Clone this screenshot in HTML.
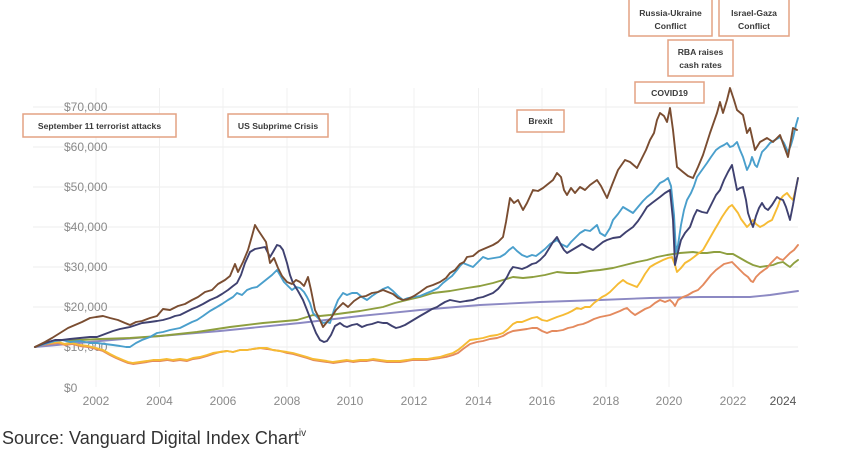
<!DOCTYPE html>
<html>
<head>
<meta charset="utf-8">
<style>
  html, body { margin: 0; padding: 0; background: #ffffff; }
  body { width: 841px; height: 463px; overflow: hidden; }
  svg { display: block; }
  .ax { font-family: "Liberation Sans", Arial, sans-serif; font-size: 12px; fill: #8a8a8a; }
  .bx { font-family: "Liberation Sans", Arial, sans-serif; font-size: 8.6px; font-weight: bold; fill: #3a3a3a; }
  .src { font-family: "Liberation Sans", Arial, sans-serif; font-size: 18px; fill: #333333; }
  .ln { fill: none; stroke-width: 1.9; stroke-linejoin: round; stroke-linecap: round; }
</style>
</head>
<body>
<svg width="841" height="463" viewBox="0 0 841 463" xmlns="http://www.w3.org/2000/svg">
  <rect x="0" y="0" width="841" height="463" fill="#ffffff"/>

  <!-- horizontal gridlines -->
  <g stroke="#eeeeee" stroke-width="1">
    <line x1="33" y1="107" x2="798" y2="107"/>
    <line x1="33" y1="147" x2="798" y2="147"/>
    <line x1="33" y1="187" x2="798" y2="187"/>
    <line x1="33" y1="227" x2="798" y2="227"/>
    <line x1="33" y1="267" x2="798" y2="267"/>
    <line x1="33" y1="307" x2="798" y2="307"/>
    <line x1="33" y1="347" x2="798" y2="347"/>
  </g>
  <!-- vertical gridlines -->
  <g stroke="#f0f0f0" stroke-width="1">
    <line x1="96" y1="88" x2="96" y2="387"/>
    <line x1="159.5" y1="88" x2="159.5" y2="387"/>
    <line x1="223" y1="88" x2="223" y2="387"/>
    <line x1="287" y1="88" x2="287" y2="387"/>
    <line x1="350" y1="88" x2="350" y2="387"/>
    <line x1="414" y1="88" x2="414" y2="387"/>
    <line x1="478.5" y1="88" x2="478.5" y2="387"/>
    <line x1="542" y1="88" x2="542" y2="387"/>
    <line x1="606" y1="88" x2="606" y2="387"/>
    <line x1="669" y1="88" x2="669" y2="387"/>
    <line x1="733" y1="88" x2="733" y2="387"/>
  </g>

  <!-- y axis labels -->
  <g class="ax">
    <text x="64" y="111">$70,000</text>
    <text x="64" y="151">$60,000</text>
    <text x="64" y="191">$50,000</text>
    <text x="64" y="231">$40,000</text>
    <text x="64" y="271">$30,000</text>
    <text x="64" y="311">$20,000</text>
    <text x="64" y="351">$10,000</text>
    <text x="64" y="392">$0</text>
  </g>
  <!-- x axis labels -->
  <g class="ax" text-anchor="middle">
    <text x="96" y="405">2002</text>
    <text x="159.5" y="405">2004</text>
    <text x="223" y="405">2006</text>
    <text x="287" y="405">2008</text>
    <text x="350" y="405">2010</text>
    <text x="414" y="405">2012</text>
    <text x="478.5" y="405">2014</text>
    <text x="542" y="405">2016</text>
    <text x="606" y="405">2018</text>
    <text x="669" y="405">2020</text>
    <text x="733" y="405">2022</text>
    <text x="783" y="405" style="fill:#555">2024</text>
  </g>

  <!-- lavender (cash) -->
  <polyline class="ln" stroke="#8c89c3" points="35,347 100,341 160,336 220,331 300,323 360,316 420,310 480,305 540,302 600,300 650,298 700,297 750,297 770,295 798,291"/>

  <!-- olive -->
  <polyline class="ln" stroke="#8e9f3f" points="35,347 45,344 55,342 63,340 80,340 100,339 130,338 160,336 197,332 230,327 263,323 297,320 307,317 313,315 320,316 330,315 345,313 360,311 383,307 395,303 407,300 420,297 433,293 450,291 467,288 480,286 493,283 503,280 513,277 523,278 533,277 545,275 557,272 567,273 577,273 590,271 600,270 613,268 625,265 637,262 647,260 657,257 667,255 680,253 693,252 700,253 707,253 714,252 720,252 727,254 733,254 740,258 747,262 753,265 760,267 767,266 773,265 778,263 783,262 787,265 790,267 794,263 798,260"/>

  <!-- salmon -->
  <polyline class="ln" stroke="#e48a5e" points="35,347 42,345 50,344 58,343 65,345 72,344 80,346 88,347 96,349 103,351 110,355 116,358 123,361 128,363 133,364 140,363 147,362 153,361 160,361 167,360 173,361 180,360 187,361 193,359 200,358 207,356 213,354 220,352 227,351 233,352 240,350 247,350 253,349 260,348 267,349 273,350 280,351 287,353 293,354 300,356 307,358 313,360 320,361 327,362 333,363 340,362 347,361 353,362 360,361 367,361 373,360 380,361 387,362 393,362 400,362 407,361 413,360 420,360 427,360 433,359 440,358 446,357 453,355 458,353 463,349 470,344 477,342 483,341 490,339 497,338 503,336 508,333 513,331 520,330 527,329 532,328 537,328 542,331 547,333 552,331 557,331 563,330 568,328 573,327 578,325 583,324 588,322 594,319 600,317 605,316 610,315 615,313 620,311 624,309 627,308 631,312 635,315 640,312 645,309 650,307 655,303 660,300 665,302 670,300 673,303 675,306 678,300 683,297 688,295 693,292 698,290 703,285 707,280 711,275 716,270 720,267 724,264 728,263 732,262 736,266 740,270 744,274 748,277 751,281 753,282 756,277 760,273 764,270 767,268 771,263 774,260 777,257 780,259 783,260 787,256 790,253 794,250 798,245"/>

  <!-- yellow -->
  <polyline class="ln" stroke="#f6bb34" points="35,347 42,344 50,343 58,342 65,344 72,343 80,345 88,346 96,348 103,350 110,354 116,357 123,360 128,362 133,363 140,362 147,361 153,360 160,360 167,359 173,360 180,359 187,360 193,358 200,357 207,355 213,353 220,352 227,351 233,352 240,350 247,350 253,349 260,348 267,348 273,350 280,351 287,352 293,353 300,355 307,357 313,359 320,360 327,361 333,362 340,361 347,360 353,361 360,360 367,360 373,359 380,360 387,361 393,361 400,361 407,360 413,359 420,359 427,359 433,358 440,357 446,355 453,353 458,350 463,346 470,340 477,339 483,338 490,336 497,335 503,333 508,329 513,324 517,322 522,322 527,320 532,318 537,317 542,320 547,321 552,319 557,317 563,315 568,313 572,311 577,308 581,309 585,307 590,307 594,303 598,300 602,297 606,295 610,292 614,288 618,284 623,280 627,283 632,285 637,287 641,281 645,274 650,267 655,264 659,262 663,260 668,258 672,257 675,265 677,272 681,268 685,263 690,260 694,257 699,253 703,250 707,243 711,236 715,229 718,224 722,217 726,211 729,207 732,205 735,209 738,213 741,219 744,223 747,227 750,224 753,220 756,224 760,227 764,225 768,222 772,220 775,213 778,206 780,200 783,196 787,193 790,197 793,200 796,188 798,178"/>

  <!-- light blue -->
  <polyline class="ln" stroke="#4a9fcc" points="35,347 45,344 55,341 62,340 70,342 80,341 90,343 97,343 105,344 113,345 120,346 126,347 130,347 136,343 142,340 150,337 157,333 163,332 170,330 175,329 180,328 186,325 192,322 197,320 203,316 210,311 217,307 222,304 228,300 233,297 237,293 242,295 247,290 252,288 257,287 262,283 267,279 272,275 277,270 280,275 284,282 287,285 292,290 296,287 300,288 304,292 307,297 310,303 313,313 318,318 323,323 327,322 330,323 334,310 338,300 343,293 347,295 352,293 357,293 362,297 367,300 372,296 378,292 383,289 388,287 393,291 398,296 403,300 408,298 414,297 420,296 427,293 432,291 438,288 443,283 448,279 452,276 457,270 460,266 463,263 468,265 473,267 478,262 483,257 488,259 494,258 500,257 505,254 509,250 513,247 517,251 522,255 527,257 532,255 536,256 540,253 545,249 550,244 557,240 561,244 567,247 571,242 575,238 580,233 585,230 590,231 597,225 600,233 605,236 610,228 613,220 618,214 623,207 628,210 633,213 638,207 643,201 647,197 652,193 656,188 660,183 664,181 668,178 671,186 674,215 676,252 678,245 681,225 684,210 687,200 691,193 694,186 697,177 702,170 707,163 711,157 716,150 720,147 724,145 727,143 730,147 733,146 737,142 740,150 743,157 747,170 750,164 752,157 755,165 757,167 760,158 762,152 766,148 770,143 775,140 780,137 784,143 788,152 791,145 793,138 796,125 798,118"/>

  <!-- navy -->
  <polyline class="ln" stroke="#3f4170" points="35,347 45,343 55,340 62,340 70,339 80,338 90,337 97,337 105,334 113,331 120,329 130,327 136,325 142,323 150,322 157,321 163,320 170,318 175,316 180,315 186,312 192,309 197,307 203,304 210,300 217,297 222,294 228,290 233,286 237,283 241,275 245,263 250,252 255,249 260,248 265,247 268,253 270,257 273,252 277,245 280,246 283,250 287,263 290,275 293,283 298,291 303,300 307,310 312,323 316,333 320,340 324,342 327,341 331,335 335,326 340,323 344,326 347,327 352,325 357,324 362,327 367,325 372,324 378,322 383,323 387,323 392,326 396,328 400,327 405,325 410,322 415,319 420,316 427,312 432,309 437,307 440,305 445,302 450,300 455,301 460,302 466,301 473,300 478,298 483,297 488,295 493,293 498,289 503,283 507,277 510,271 513,267 518,268 522,269 527,267 532,264 536,263 540,260 545,255 550,247 553,242 557,237 561,245 564,250 567,253 572,250 577,247 582,244 587,247 593,250 598,246 603,242 607,240 613,238 620,237 626,232 633,227 638,221 642,215 647,207 652,203 656,200 660,197 665,193 670,190 673,220 675,265 678,252 681,240 685,233 690,227 694,216 697,210 702,212 707,213 712,203 716,195 720,190 724,180 728,172 732,165 735,180 737,190 740,188 743,187 746,200 748,213 751,222 753,227 756,216 759,208 762,203 765,208 768,210 772,205 777,197 780,199 783,200 786,207 790,220 793,205 796,188 798,178"/>

  <!-- brown -->
  <polyline class="ln" stroke="#7a4d31" points="35,347 45,342 52,338 60,333 68,328 75,325 82,322 90,318 96,317 103,316 110,318 118,320 125,323 130,325 136,322 142,321 150,318 157,316 163,309 170,310 178,306 185,304 192,300 198,297 205,292 212,290 218,284 225,280 230,276 235,264 238,272 243,262 248,250 252,236 255,225 258,230 262,236 266,242 270,263 274,258 278,268 282,276 287,282 292,284 296,280 300,282 304,286 308,277 311,290 315,310 319,318 323,327 327,322 331,318 336,310 343,303 348,307 354,301 360,297 366,296 372,293 378,292 383,290 388,292 393,294 398,298 403,300 408,299 414,296 420,292 427,287 433,285 440,282 446,278 450,273 455,270 460,264 464,262 467,257 473,256 479,251 486,248 493,245 498,242 503,237 506,222 510,198 514,203 518,200 523,210 527,203 533,190 538,191 543,188 548,184 553,180 557,173 561,177 564,190 567,195 571,188 575,193 580,187 585,190 590,185 597,180 601,186 607,198 612,185 618,170 625,160 630,162 637,168 642,158 646,150 650,140 654,133 657,120 660,113 664,116 667,122 670,108 673,130 677,167 683,172 688,176 693,178 698,167 703,155 710,133 717,113 720,102 723,113 727,100 730,88 734,100 737,110 743,115 747,133 750,128 755,150 760,142 767,138 773,142 780,135 784,146 788,157 793,128 797,130"/>

  <!-- annotation boxes -->
  <g fill="#ffffff" stroke="#e3a283" stroke-width="1.5">
    <rect x="23" y="114" width="153" height="23"/>
    <rect x="228" y="114" width="100" height="23"/>
    <rect x="517" y="110" width="47" height="22"/>
    <rect x="635" y="82" width="69" height="21"/>
    <rect x="668" y="40" width="65" height="36"/>
    <rect x="629" y="-2" width="83" height="38"/>
    <rect x="719" y="-2" width="70" height="38"/>
  </g>
  <g class="bx" text-anchor="middle">
    <text x="99.5" y="129">September 11 terrorist attacks</text>
    <text x="278" y="129">US Subprime Crisis</text>
    <text x="540.5" y="124">Brexit</text>
    <text x="669.5" y="96">COVID19</text>
    <text x="700.5" y="55">RBA raises</text>
    <text x="700.5" y="68">cash rates</text>
    <text x="670.5" y="16">Russia-Ukraine</text>
    <text x="670.5" y="29">Conflict</text>
    <text x="754" y="16">Israel-Gaza</text>
    <text x="754" y="29">Conflict</text>
  </g>

  <!-- source -->
  <text class="src" x="2" y="444">Source: Vanguard Digital Index Chart<tspan font-size="10" dy="-8">iv</tspan></text>
</svg>
</body>
</html>
